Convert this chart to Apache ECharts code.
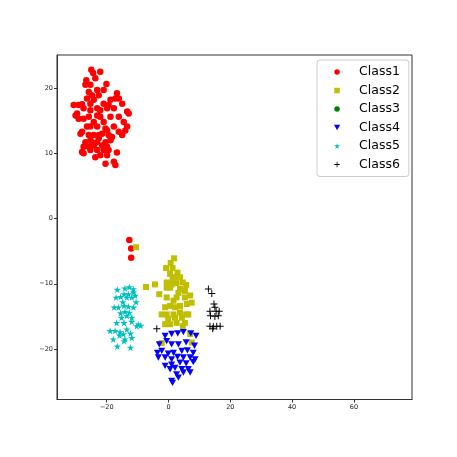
<!DOCTYPE html>
<html>
<head>
<meta charset="utf-8">
<script src="https://cdn.jsdelivr.net/npm/echarts@6/dist/echarts.min.js"></script>
<style>html,body{margin:0;padding:0;background:#fff}#c{width:457px;height:457px}</style>
</head>
<body>
<div id="c"></div>
<script>
const classNames = ['Class1', 'Class2', 'Class3', 'Class4', 'Class5', 'Class6'];
const xTicks = [-20, 0, 20, 40, 60];
const yTicks = [-20, -10, 0, 10, 20];

const class1 = [
  [-25.0,22.8],[-22.1,22.5],[-24.4,22.3],[-23.7,21.5],[-26.6,21.2],[-26.9,20.5],[-25.3,20.5],[-20.1,20.6],
  [-23.1,19.7],[-21.0,19.7],[-25.8,19.4],[-24.8,18.9],[-22.6,18.9],[-16.7,19.2],[-16.1,18.4],[-17.2,18.4],
  [-18.8,18.2],[-30.7,17.4],[-28.0,17.5],[-25.3,17.6],[-21.0,17.6],[-19.4,17.4],[-15.0,17.6],[-23.1,16.9],
  [-27.5,16.9],[-25.3,16.6],[-22.1,16.6],[-17.7,16.9],[-13.4,16.4],[-30.1,15.8],[-29.1,15.3],[-27.5,15.3],
  [-25.8,15.6],[-23.1,15.8],[-22.1,15.6],[-18.8,15.6],[-16.1,15.6],[-12.9,16.1],[-24.2,14.8],[-21.0,14.8],
  [-26.4,14.1],[-28.0,13.3],[-25.3,14.1],[-23.1,14.1],[-20.4,13.8],[-19.9,13.5],[-17.7,14.1],[-13.4,14.1],
  [-14.0,13.5],[-16.1,13.3],[-15.0,12.8],[-28.5,13.0],[-25.8,12.8],[-24.2,12.8],[-22.6,12.8],[-21.5,13.0],
  [-19.4,12.8],[-18.3,12.5],[-25.3,12.0],[-26.9,11.7],[-23.1,11.7],[-20.4,11.7],[-18.8,12.0],[-27.5,11.0],
  [-25.8,11.0],[-24.2,11.2],[-21.5,11.2],[-19.9,11.0],[-28.0,10.2],[-25.3,10.5],[-23.1,10.5],[-21.0,10.5],
  [-19.4,10.5],[-16.7,10.1],[-23.7,9.4],[-22.1,9.7],[-19.9,9.7],[-20.4,8.4],[-17.7,8.7],[-17.2,8.2],
  [-27.5,10.0],[-24.8,11.7],[-22.6,12.3],[-29.6,16.1],[-26.4,18.4],[-24.2,18.2],[-19.9,16.9],[-14.5,14.8],
  [-29.1,17.4],[-12.7,-3.3],[-12.1,-4.6],[-12.1,-6.0]
];
const class2 = [
  [-10.5,-4.4],[1.8,-6.1],[0.7,-6.8],[-0.8,-7.6],[1.3,-7.6],[2.9,-8.3],[0.5,-8.5],[2.4,-9.0],
  [-7.3,-10.5],[-4.4,-10.1],[-0.6,-9.8],[1.0,-10.1],[2.6,-9.9],[4.6,-9.8],[5.7,-10.2],[-3.0,-11.6],
  [-0.6,-10.6],[0.5,-10.6],[3.7,-10.8],[5.3,-11.1],[7.0,-11.8],[-0.6,-12.1],[2.6,-12.1],[5.3,-12.1],
  [-1.1,-13.6],[0.5,-13.4],[2.1,-13.6],[3.7,-13.4],[5.9,-13.1],[7.5,-12.9],[-2.2,-14.7],[-0.6,-14.7],
  [1.6,-14.7],[3.7,-14.4],[5.7,-14.7],[-0.1,-15.4],[2.1,-15.2],[4.3,-15.2],[-1.1,-16.2],[0.5,-16.2],
  [2.6,-16.0],[5.3,-16.0],[7.0,-17.7],[7.5,-19.0],[-2.2,-19.1],[4.6,-16.5],[1.3,-9.3],[3.7,-9.0],
  [3.2,-11.4],[1.6,-12.6],[6.4,-14.7]
];
const class3 = [];
const class4 = [
  [-1.1,-18.0],[1.0,-17.7],[3.0,-17.6],[4.8,-17.4],[7.2,-17.6],[8.9,-18.0],[-3.0,-19.3],[-0.6,-18.8],
  [1.0,-19.3],[3.2,-19.3],[5.7,-19.0],[8.4,-19.5],[-3.6,-20.6],[-2.2,-20.3],[-0.1,-20.7],[1.6,-20.6],
  [4.3,-20.3],[6.1,-20.2],[8.0,-20.6],[-3.3,-21.3],[-1.1,-21.3],[1.0,-21.6],[2.9,-21.2],[4.8,-21.3],
  [7.0,-21.3],[8.6,-21.6],[-1.1,-22.6],[1.0,-22.4],[3.7,-22.1],[5.7,-22.2],[8.0,-22.0],[0.5,-23.1],
  [2.1,-22.9],[4.3,-23.1],[6.4,-23.1],[2.6,-23.9],[4.8,-23.6],[7.0,-23.6],[1.0,-24.9],[3.2,-24.4],
  [1.3,-25.2]
];
const class5 = [
  [-16.6,-10.9],[-14.1,-10.7],[-12.7,-10.5],[-11.4,-10.8],[-14.4,-11.6],[-13.0,-11.6],[-11.4,-11.3],
  [-17.0,-12.1],[-15.5,-12.0],[-13.5,-12.1],[-11.9,-12.1],[-10.8,-11.8],[-17.6,-13.6],[-16.2,-13.6],
  [-14.4,-13.4],[-13.0,-13.5],[-11.4,-13.6],[-15.5,-14.5],[-14.1,-14.3],[-12.7,-14.4],[-15.2,-15.2],
  [-13.5,-14.9],[-11.9,-15.2],[-16.8,-16.0],[-14.4,-16.0],[-11.9,-15.8],[-9.8,-16.2],[-9.0,-16.4],
  [-18.9,-17.2],[-17.3,-17.2],[-15.7,-17.4],[-13.5,-17.0],[-14.6,-17.7],[-12.3,-17.6],[-10.3,-16.5],
  [-17.9,-18.5],[-15.9,-17.9],[-14.1,-18.5],[-11.9,-18.3],[-14.4,-18.8],[-16.6,-19.6],[-12.3,-19.8],
  [-14.8,-12.8],[-10.5,-12.8]
];
const class6 = [
  [12.9,-10.8],[14.0,-11.5],[14.7,-13.1],[15.0,-13.6],[13.4,-14.2],[15.4,-14.2],[16.4,-14.2],
  [13.6,-14.9],[15.0,-15.0],[16.1,-14.9],[13.4,-16.5],[14.5,-16.6],[15.6,-16.5],[16.7,-16.5],
  [14.3,-16.9],[-3.8,-16.9]
];

const colors = ['#ff0000', '#bfbf00', '#008000', '#0000ff', '#00bfbf', '#000000'];
const square = 'path://M0,0H10V10H0Z';
const triDown = 'path://M0,0 L10,0 L5,9 Z';
const star = 'path://M50,0 L61,35 L98,35 L68,57 L79,91 L50,70 L21,91 L32,57 L2,35 L39,35 Z';
const plus = 'path://M4.3,0H5.7V4.3H10V5.7H5.7V10H4.3V5.7H0V4.3H4.3Z';
const symbols = ['circle', square, 'circle', triDown, star, plus];
const sizes = [6.5, 6, 6.5, 7, 7.5, 7];
const datasets = [class1, class2, class3, class4, class5, class6];

const fmt = v => String(v).replace('-', '\u2212');

const chart = echarts.init(document.getElementById('c'), null, {renderer: 'canvas'});
chart.setOption({
  animation: false,
  backgroundColor: '#ffffff',
  grid: {left: 57, right: 45, top: 55, bottom: 57.5, show: true, borderColor: '#333', borderWidth: 1, backgroundColor: 'transparent'},
  xAxis: {
    type: 'value', min: -36.1, max: 78.8,
    axisLine: {onZero: false, lineStyle: {color: '#333', width: 1}},
    axisTick: {show: true, length: 3, customValues: xTicks, lineStyle: {color: '#333'}},
    axisLabel: {customValues: xTicks, formatter: fmt, fontSize: 6.5, color: '#222', margin: 4, fontFamily: 'DejaVu Sans'},
    splitLine: {show: false}
  },
  yAxis: {
    type: 'value', min: -27.74, max: 25.06,
    axisLine: {onZero: false, lineStyle: {color: '#333', width: 1}},
    axisTick: {show: true, length: 3, customValues: yTicks, lineStyle: {color: '#333'}},
    axisLabel: {customValues: yTicks, formatter: fmt, fontSize: 6.5, color: '#222', margin: 4, fontFamily: 'DejaVu Sans'},
    splitLine: {show: false}
  },
  legend: {
    orient: 'vertical', left: 317, top: 60,
    padding: [4, 9, 4, 17],
    itemWidth: 34, itemHeight: 5.5, itemGap: 2.5,
    backgroundColor: 'rgba(255,255,255,0.8)', borderColor: '#cccccc', borderWidth: 1, borderRadius: 3,
    textStyle: {fontSize: 12.5, lineHeight: 16, color: '#000', fontFamily: 'DejaVu Sans'},
    data: classNames.map((n, i) => ({name: n, icon: symbols[i]}))
  },
  series: classNames.map((n, i) => ({
    name: n, type: 'scatter',
    data: datasets[i],
    symbol: symbols[i], symbolSize: sizes[i], symbolKeepAspect: true,
    itemStyle: {color: colors[i], opacity: 1},
    emphasis: {disabled: true}
  }))
});
</script>
</body>
</html>
